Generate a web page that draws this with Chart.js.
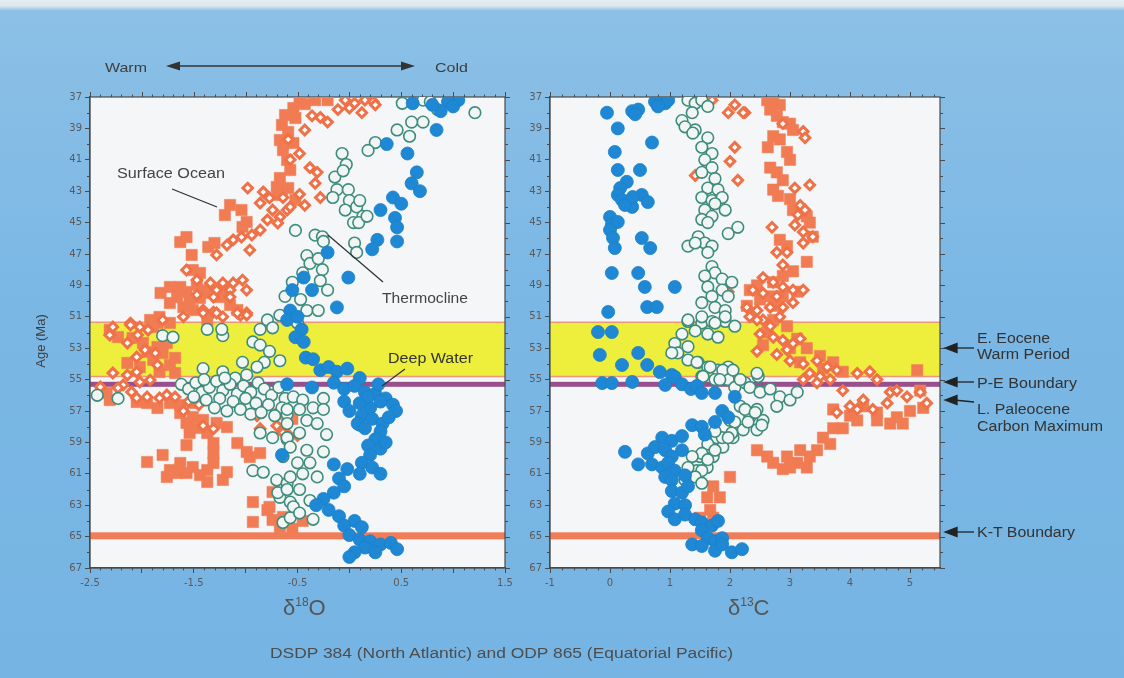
<!DOCTYPE html>
<html>
<head>
<meta charset="utf-8">
<script src="https://cdn.jsdelivr.net/npm/chart.js@4.4.1/dist/chart.umd.min.js"></script>
<style>
  html, body { margin: 0; padding: 0; }
  body {
    width: 1124px; height: 678px; overflow: hidden; position: relative;
    background: linear-gradient(to bottom, #e8edf0 0px, #dae6ee 6px, #8cc0e6 11px, #7ab7e5 45%, #76b4e3 100%);
    font-family: "Liberation Sans", Arial, sans-serif;
  }
  canvas { position: absolute; }
  #o18 { left: 40px; top: 80px; }
  #c13 { left: 500px; top: 80px; }
  svg { position: absolute; left: 0; top: 0; }
</style>
</head>
<body>
<canvas id="o18" width="480" height="530"></canvas>
<canvas id="c13" width="460" height="530"></canvas>

<svg width="1124" height="678" font-family="Liberation Sans, Arial, sans-serif">
  <!-- temperature direction -->
  <text x="105" y="72" font-size="13" fill="#3d3d3d" textLength="42" lengthAdjust="spacingAndGlyphs">Warm</text>
  <line x1="178" y1="66" x2="403" y2="66" stroke="#333" stroke-width="1.3"/>
  <polygon points="166,66 180,61.5 180,70.5" fill="#333"/>
  <polygon points="415,66 401,61.5 401,70.5" fill="#333"/>
  <text x="435" y="72" font-size="13" fill="#3d3d3d" textLength="33" lengthAdjust="spacingAndGlyphs">Cold</text>

  <!-- water mass labels -->
  <text x="117" y="178" font-size="14" fill="#444" textLength="108" lengthAdjust="spacingAndGlyphs">Surface Ocean</text>
  <line x1="172" y1="189" x2="217" y2="207" stroke="#333" stroke-width="1.3"/>
  <text x="382" y="303" font-size="14" fill="#444" textLength="86" lengthAdjust="spacingAndGlyphs">Thermocline</text>
  <line x1="328" y1="235" x2="383" y2="282" stroke="#333" stroke-width="1.3"/>
  <text x="388" y="363" font-size="14" fill="#333" textLength="85" lengthAdjust="spacingAndGlyphs">Deep Water</text>
  <line x1="405" y1="369" x2="382" y2="386" stroke="#333" stroke-width="1.3"/>

  <!-- axis titles -->
  <text transform="translate(45,341) rotate(-90)" text-anchor="middle" font-size="13" fill="#3d3d3d">Age (Ma)</text>
  <text x="283" y="615" font-size="22" fill="#555">δ<tspan font-size="12" dy="-9">18</tspan><tspan dy="9">O</tspan></text>
  <text x="728" y="615" font-size="22" fill="#555">δ<tspan font-size="12" dy="-9">13</tspan><tspan dy="9">C</tspan></text>
  <text x="270" y="658" font-size="14" fill="#4d4d4d" textLength="463" lengthAdjust="spacingAndGlyphs">DSDP 384 (North Atlantic) and ODP 865 (Equatorial Pacific)</text>

  <!-- event labels -->
  <g stroke="#222" stroke-width="1.3" fill="#222">
    <line x1="954" y1="348" x2="974" y2="348"/><polygon points="945,348 957,343.5 957,352.5"/>
    <line x1="954" y1="382" x2="974" y2="382"/><polygon points="945,382 957,377.5 957,386.5"/>
    <line x1="954" y1="400" x2="974" y2="402"/><polygon points="945,400 957,395.5 957,404.5"/>
    <line x1="954" y1="532" x2="974" y2="532"/><polygon points="945,532 957,527.5 957,536.5"/>
  </g>
  <g font-size="14" fill="#333">
    <text x="977" y="343" textLength="73" lengthAdjust="spacingAndGlyphs">E. Eocene</text>
    <text x="977" y="359" textLength="93" lengthAdjust="spacingAndGlyphs">Warm Period</text>
    <text x="977" y="388" textLength="100" lengthAdjust="spacingAndGlyphs">P-E Boundary</text>
    <text x="977" y="414" textLength="93" lengthAdjust="spacingAndGlyphs">L. Paleocene</text>
    <text x="977" y="431" textLength="126" lengthAdjust="spacingAndGlyphs">Carbon Maximum</text>
    <text x="977" y="537" textLength="98" lengthAdjust="spacingAndGlyphs">K-T Boundary</text>
  </g>
</svg>

<script>
// ---- tick labels ----
const o18TickLabels = ['-2.5', '-1.5', '-0.5', '0.5', '1.5'];
const c13TickLabels = ['-1', '0', '1', '2', '3', '4', '5'];
const ageTickLabels = [37, 39, 41, 43, 45, 47, 49, 51, 53, 55, 57, 59, 61, 63, 65, 67];

// ---- event intervals (Ma) ----
const eoceneWarm = [51.35, 54.8];
const peBoundary = 55.3;
const ktBoundary = 64.95;

// ---- δ18O panel: [δ18O, age Ma] ----
const deepO18 = [
  [1.05,37.2],[0.95,37.3],[1.0,37.6],[0.88,37.9],[0.8,37.5],[0.61,37.4],[0.84,39.1],[0.36,40.0],[0.56,40.6],
  [0.65,41.8],[0.6,42.5],[0.68,43.0],[0.42,43.4],[0.5,43.8],[0.3,44.2],[0.44,44.7],[0.46,45.3],[0.46,46.2],
  [0.27,46.1],[0.22,46.7],[-0.21,46.9],[-0.01,48.5],[-0.44,48.5],[-0.55,49.3],[-0.36,49.3],[-0.12,50.4],
  [-0.57,50.6],[-0.6,51.2],[-0.5,51.0],[-0.46,51.8],[-0.52,52.3],[-0.44,52.6],[-0.42,53.6],[-0.35,53.7],
  [-0.6,55.3],[-0.36,55.5],[-0.28,54.4],[-0.2,54.2],[-0.12,54.5],[-0.02,54.3],[0.1,54.9],[-0.15,55.2],
  [-0.05,55.6],[0.05,55.4],[0.15,55.8],[0.25,55.9],[0.35,56.2],[0.42,56.6],[0.3,56.4],[0.2,56.8],[0.1,56.5],
  [-0.05,56.4],[0.0,57.0],[0.12,57.3],[0.22,57.5],[0.32,57.8],[0.45,57.0],[0.38,57.4],[0.3,58.3],[0.25,58.8],
  [0.18,59.2],[0.3,59.4],[0.2,59.8],[0.12,60.3],[0.22,60.6],[0.3,61.0],[0.1,61.0],[-0.02,60.7],[-0.15,60.4],
  [-0.1,61.3],[-0.05,61.8],[-0.15,62.2],[-0.25,62.6],[-0.32,63.0],[-0.2,63.3],[-0.1,63.7],[0.05,64.0],
  [0.12,64.4],[-0.05,64.3],[0.0,64.9],[0.1,65.2],[0.2,65.3],[0.3,65.5],[0.4,65.4],[0.46,65.8],[0.15,65.7],
  [0.05,66.0],[0.0,66.3],[0.25,66.0],[-0.65,59.8],[0.28,55.3],[0.18,56.1],[0.08,57.8],[0.35,59.0],[0.15,58.1]
];
const thermoO18 = [
  [0.51,37.4],[0.71,37.2],[0.85,37.8],[0.78,37.3],[0.97,37.2],[1.21,38.0],[0.71,38.6],[0.6,38.6],[0.46,39.1],
  [0.58,39.5],[0.25,39.9],[0.18,40.4],[-0.07,40.6],[-0.03,41.3],[-0.14,42.1],[-0.06,41.7],[-0.12,42.9],
  [-0.01,42.9],[-0.16,43.4],[0.0,43.6],[0.07,44.0],[-0.04,44.2],[0.13,44.6],[0.04,45.0],[0.09,45.0],
  [0.17,44.6],[0.1,43.6],[-0.52,45.5],[-0.33,45.8],[-0.26,45.9],[-0.41,47.1],[-0.25,46.2],[0.05,46.3],
  [0.07,46.9],[-0.26,48.0],[-0.55,48.8],[-0.28,48.7],[-0.21,49.3],[-0.62,49.7],[-0.47,49.9],[-0.41,50.6],
  [-0.3,50.6],[-0.5,51.4],[-0.38,47.6],[-0.3,47.3],[-0.45,48.2],
  [-1.8,52.2],[-1.7,52.3],[-1.37,51.8],[-1.22,52.2],[-1.23,51.8],[-0.93,52.6],[-0.86,51.8],[-0.79,51.2],
  [-0.74,51.7],[-0.67,50.9],[-0.86,52.8],[-0.77,53.2],[-0.67,53.8],[-0.82,53.9],[-1.03,53.9],[-0.89,54.2],
  [-1.41,54.3],[-1.22,54.5],[-0.99,54.7],[-1.1,54.9],
  [-1.62,55.3],[-1.55,55.6],[-1.48,55.2],[-1.42,55.8],[-1.35,55.5],[-1.28,55.1],[-1.22,55.7],[-1.15,55.3],
  [-1.08,55.9],[-1.02,55.4],[-0.95,55.8],[-0.88,55.2],[-0.82,55.6],[-0.75,56.0],[-0.68,55.5],[-0.62,56.2],
  [-1.5,56.1],[-1.38,56.3],[-1.25,56.2],[-1.12,56.4],[-1.0,56.2],[-0.9,56.5],[-0.78,56.6],[-0.65,56.8],
  [-1.3,56.8],[-1.18,57.0],[-1.05,56.9],[-0.95,57.2],[-0.85,57.1],[-0.72,57.3],[-0.6,57.2],[-1.4,55.0],
  [-1.2,54.9],[-2.43,56.0],[-2.23,56.2],
  [-0.86,58.4],[-0.74,58.7],[-0.6,58.8],[-0.93,60.8],[-0.83,60.9],[-0.7,61.4],[-0.6,61.6],[-0.67,62.5],
  [-0.69,62.2],[-0.57,62.8],[-0.64,64.1],[-0.57,63.8],
  [-0.54,56.1],[-0.45,56.3],[-0.25,56.2],[-0.6,56.9],[-0.48,56.9],[-0.35,56.8],[-0.25,56.9],[-0.6,57.8],
  [-0.41,57.6],[-0.31,57.8],[0.1,57.9],[-0.6,58.7],[-0.48,58.4],[-0.22,58.5],[-0.57,59.3],[-0.41,59.5],
  [-0.25,59.6],[-0.64,59.9],[-0.5,60.3],[-0.38,60.3],[-0.57,61.2],[-0.45,61.0],[-0.31,61.2],[-0.6,62.0],
  [-0.48,62.0],[-0.38,62.7],[-0.54,63.1],[-0.35,63.9],[-0.48,63.5]
];
const surfOpenO18 = [
  [-0.04,37.2],[0.05,37.4],[0.15,37.2],[0.23,37.3],[0.25,37.5],[-0.11,37.8],[0.0,37.7],[0.12,38.0],
  [-0.43,39.1],[-0.28,38.3],[-0.21,38.6],[-0.36,38.2],[-0.59,39.7],[-0.48,40.6],[-0.57,41.0],[-0.38,41.5],
  [-0.31,41.8],[-0.33,42.5],[-0.28,43.4],[-0.64,43.4],[-0.6,44.2],[-0.57,44.0],[-0.48,43.2],[-0.43,43.9],
  [-0.98,42.8],[-0.83,43.05],[-0.77,43.43],[-0.86,43.75],[-0.74,44.2],[-0.67,44.64],[-0.79,44.83],
  [-0.69,45.03],[-0.86,45.47],[-0.94,45.79],[-1.04,45.92],[-1.12,46.1],[-1.18,46.43],[-1.28,47.06],
  [-0.96,46.75],[-1.57,48.02],[-1.47,48.66],[-1.34,48.85],[-1.22,48.85],[-1.12,48.85],[-1.03,48.66],
  [-0.99,49.3],[-1.15,49.3],[-1.28,49.3],[-1.47,49.6],[-1.31,49.74],[-1.15,49.74],[-1.41,50.57],[-1.31,50.7],
  [-1.22,51.0],[-1.05,50.9],[-0.99,50.76],[-1.6,51.0],[-1.8,51.2],[-2.11,51.4],[-2.02,51.65],[-2.28,51.65],
  [-2.31,52.16],[-2.11,51.52],[-2.04,52.16],[-1.94,51.84],[-2.14,52.67],[-1.97,53.11],[-1.87,53.31],
  [-2.05,53.56],[-1.85,54.07],[-2.28,54.58],[-2.14,54.71],[-2.05,54.52],[-2.02,55.15],[-1.92,55.03],
  [-2.18,55.34],[-2.1,55.79],[-2.23,55.53],[-2.4,55.47],[-1.95,56.11],[-1.83,56.17],[-2.05,56.17],
  [-1.76,55.98],[-1.68,56.11],[-1.41,50.76],[-1.28,50.76],[-1.08,50.76],[-0.99,50.89],[-1.41,57.94],
  [-1.31,58.13],[-0.89,57.3],[-0.86,58.13],[-0.7,57.94],[-0.6,58.45],[-0.64,58.38],[-0.5,58.57],
  [-1.55,56.4],[-1.45,56.6],[-1.6,57.0]
];
const surfSolidO18 = [
  [-0.48,37.2],[-0.33,37.2],[-0.21,37.2],[-0.43,37.45],[-0.54,37.7],[-0.62,38.15],[-0.52,38.34],[-0.65,38.78],
  [-0.59,39.23],[-0.67,39.74],[-0.54,39.93],[-0.64,40.38],[-0.6,41.01],[-0.57,41.65],[-0.67,42.16],
  [-0.59,42.8],[-0.69,43.24],[-0.52,43.56],[-0.7,42.73],[-0.65,42.92],
  [-1.15,43.88],[-1.04,44.2],[-1.2,44.52],[-0.99,44.96],[-1.03,45.28],[-1.57,45.92],[-1.63,46.24],
  [-1.52,47.06],[-1.36,46.55],[-1.3,46.3],[-1.51,48.02],[-1.44,48.21],[-1.73,49.1],[-1.63,49.1],
  [-1.57,49.42],[-1.47,48.97],[-1.41,49.29],[-1.66,49.74],[-1.54,49.93],[-1.44,49.8],[-1.34,49.48],
  [-1.25,49.74],[-1.18,49.29],[-1.6,50.38],[-1.51,50.57],[-1.15,50.25],[-1.08,50.57],[-1.73,50.12],
  [-1.82,49.48],[-1.85,51.39],[-1.92,51.2],[-1.73,51.39],[-1.37,51.2],
  [-2.31,51.84],[-2.23,52.29],[-2.09,52.35],[-1.99,52.67],[-1.85,52.92],[-1.76,52.67],[-1.89,51.65],
  [-1.83,51.01],[-1.95,53.24],[-1.8,53.31],[-1.68,53.62],[-1.89,53.75],[-1.73,54.07],[-2.02,54.2],
  [-2.14,53.94],[-1.83,54.52],[-1.68,54.58],[-2.34,55.85],[-2.31,56.3],[-2.05,56.43],[-1.95,56.49],
  [-1.85,56.81],[-1.73,56.49],[-1.63,56.62],[-1.51,56.49],[-1.63,57.13],[-1.51,57.38],[-1.41,57.57],
  [-1.57,57.76],[-1.47,58.08],[-1.28,57.76],[-1.18,58.02],[-1.37,58.4],[-1.54,58.4],[-1.31,59.04],
  [-1.57,59.17],[-1.08,59.04],[-0.99,59.61],[-0.86,59.68],[-0.96,59.93],[-1.31,59.68],[-1.31,60.31],
  [-1.37,60.76],[-1.51,60.57],[-1.63,60.31],[-1.73,60.76],[-1.8,59.8],[-1.95,60.25],[-1.66,60.95],
  [-1.76,61.2],[-1.57,60.95],[-1.44,61.08],[-1.37,61.52],[-1.22,61.39],[-1.18,60.89],[-0.93,62.8],
  [-0.74,62.16],[-0.77,63.11],[-0.74,63.94],[-0.93,64.07],[-0.67,64.39],[-0.79,63.31],[-0.64,63.75],
  [-0.45,64.0],[-0.55,64.5],[-0.67,57.2],[-0.55,57.5]
];

// ---- δ13C panel: [δ13C, age Ma] ----
const deepC13 = [
  [-0.05,38.0],[0.37,37.9],[0.47,37.8],[0.42,38.1],[0.75,37.3],[0.85,37.2],[0.92,37.4],[0.97,37.2],[0.8,37.6],
  [0.13,39.0],[0.7,39.9],[0.08,40.5],[0.13,41.65],[0.5,41.65],[0.28,42.4],[0.17,42.8],[0.13,43.24],[0.2,43.56],
  [0.53,43.24],[0.63,43.69],[0.37,44.0],[0.25,43.88],[0.38,43.37],[0.0,44.64],[0.03,45.15],[0.13,44.96],
  [0.0,45.47],[0.05,45.98],[0.08,46.62],[0.53,45.98],[0.67,46.62],[0.03,48.21],[0.47,48.21],[0.58,49.1],
  [1.08,49.1],[0.62,50.38],[0.78,50.38],[-0.03,50.69],
  [-0.2,51.97],[0.03,51.97],[-0.17,53.43],[0.2,54.07],[0.47,53.3],[0.62,54.07],[0.83,54.52],[1.03,54.7],
  [1.08,54.83],[-0.13,55.22],[0.03,55.22],[0.37,55.15],[0.92,55.34],[1.2,55.3],[1.35,55.6],[1.45,55.4],
  [1.53,55.85],[1.75,55.85],[2.08,56.1],[1.87,57.0],[1.97,57.4],[1.75,57.7],[1.37,57.9],[1.53,58.0],
  [1.58,58.5],[0.87,58.7],[1.03,58.9],[1.2,58.6],[0.25,59.6],[0.63,59.7],[0.75,59.3],[0.92,59.5],[1.03,59.9],
  [1.2,59.5],[0.47,60.4],[0.7,60.4],[0.87,60.6],[0.97,60.3],[1.08,60.8],[1.25,61.1],[0.92,61.2],[1.03,61.4],
  [1.03,62.1],[1.2,62.2],[1.3,61.8],[1.08,62.9],[1.25,63.0],[0.97,63.4],[1.08,63.9],[1.25,63.6],[1.42,63.9],
  [1.53,64.1],[1.7,64.3],[1.8,64.0],[1.53,64.6],[1.63,65.1],[1.75,65.3],[1.87,65.1],[1.37,65.5],[1.53,65.6],
  [1.75,65.9],[1.87,65.5],[2.03,66.0],[2.2,65.8]
];
const thermoC13 = [
  [1.3,37.2],[1.42,37.4],[1.53,37.2],[1.63,37.6],[1.2,38.5],[1.37,38.0],[1.25,38.9],[1.42,39.1],[1.38,39.3],
  [1.63,39.6],[1.53,40.2],[1.7,40.6],[1.58,41.0],[1.7,41.5],[1.53,41.8],[1.75,42.2],[1.63,42.8],[1.8,42.9],
  [1.53,43.4],[1.7,43.6],[1.87,43.4],[1.75,43.8],[1.58,44.2],[1.7,44.6],[1.92,44.2],[1.53,44.8],[1.63,45.0],
  [2.13,45.3],[1.97,45.7],[1.47,45.9],[1.58,46.3],[1.7,46.5],[1.3,46.5],[1.42,46.3],[1.63,46.9],[1.7,47.8],
  [1.75,48.2],[1.58,48.4],[1.87,48.6],[2.03,48.8],[1.63,49.1],[1.87,49.3],[1.7,49.7],[1.97,49.7],[1.53,50.1],
  [1.75,50.4],[1.92,50.6],[1.3,51.3],[1.53,51.4],[1.7,51.3],[1.92,51.3],
  [1.3,51.2],[1.53,51.0],[1.75,51.4],[1.92,51.0],[2.08,51.6],[1.2,52.1],[1.42,51.9],[1.63,52.1],[1.8,52.3],
  [1.08,52.7],[1.13,53.3],[1.3,52.9],[1.03,53.3],[1.3,53.75],[1.47,53.9],[1.63,54.2],[1.8,54.4],[1.97,54.2],
  [1.53,54.8],[1.75,55.0],[1.97,55.0],[2.08,55.5],[2.25,55.2],[2.47,54.8],
  [1.45,53.9],[1.67,54.2],[1.88,54.4],[2.05,54.4],[1.55,54.8],[1.83,55.0],[2.17,55.0],[2.33,55.5],[2.45,54.6],
  [2.5,55.8],[2.67,55.6],[2.83,56.1],[3.0,56.3],[3.12,55.8],[2.78,56.7],[2.45,56.9],[2.17,56.7],[2.0,57.6],
  [2.33,57.4],[2.55,57.6],[2.22,58.2],[2.45,58.2],[2.05,58.7],[1.78,58.7],[1.88,59.3],[1.62,59.5],[1.5,59.9],
  [1.72,59.9],[1.45,60.8],[1.62,60.6],
  [2.25,56.9],[2.42,57.1],[2.53,57.9],[2.3,57.7],[2.08,57.7],[2.03,58.4],[1.87,58.7],[1.63,59.1],[1.75,59.5],
  [1.53,59.7],[1.37,59.9],[1.63,60.1],[1.3,60.6],[1.53,60.8],[1.42,61.2],[1.25,61.4],[1.53,61.6],[1.75,58.3],
  [1.97,58.7]
];
const surfOpenC13 = [
  [1.7,37.2],[1.53,37.2],[2.08,37.5],[2.25,38.0],[1.97,38.0],[2.08,40.2],[2.0,41.1],[1.42,42.0],[2.13,42.3],
  [2.7,45.3],[1.97,49.4],[2.22,38.0],[2.88,38.7],[3.22,39.2],[3.25,39.6],[3.33,42.6],[3.08,42.8],[3.17,43.9],
  [3.25,44.2],[3.13,44.5],[3.08,45.15],[3.22,45.6],[3.38,45.9],[3.22,46.3],[2.78,46.9],[2.95,46.9],[2.88,47.7],
  [2.55,48.5],[2.72,48.8],[2.88,49.1],[3.05,49.3],[3.22,49.3],[2.38,49.3],[2.55,49.5],[2.78,49.7],[2.28,50.4],
  [2.45,50.6],[2.67,50.4],[2.88,50.4],[3.05,50.1],[2.33,51.0],[2.55,51.2],
  [2.45,51.2],[2.67,51.6],[2.83,51.0],[2.5,52.1],[2.72,52.3],[2.88,52.5],[3.05,52.7],[3.17,52.4],[2.95,53.1],
  [2.45,53.2],[2.78,53.4],[3.0,53.8],[3.22,54.0],[3.45,53.8],[3.62,54.2],[3.78,54.4],[3.33,54.6],[3.5,54.8],
  [3.67,55.0],[4.12,54.6],[4.33,54.5],[4.45,55.0],[4.67,55.8],[4.78,55.7],[4.95,56.1],[5.17,55.8],[5.28,56.5],
  [4.62,56.5],[4.38,56.9],[4.12,56.9],[4.0,56.7],[3.78,57.1],[3.88,55.7],[4.22,56.3],[3.22,55.0],[3.45,55.2]
];
const surfSolidC13 = [
  [2.62,37.2],[2.72,37.2],[2.83,37.5],[2.67,37.8],[2.78,38.2],[2.88,38.6],[3.0,38.7],[3.05,39.1],[2.72,39.5],
  [2.83,39.7],[2.63,40.2],[2.95,40.5],[3.0,41.0],[2.67,41.5],[2.78,41.8],[2.88,42.3],[2.72,42.9],[2.8,43.3],
  [3.0,43.5],[3.05,44.2],[3.28,44.6],[3.33,45.0],[3.38,45.9],[2.83,46.1],[2.95,46.5],[3.28,47.5],[3.05,48.1],
  [2.88,48.4],[2.72,48.8],[2.45,49.0],[2.33,49.3],[2.5,49.9],[2.67,49.7],[2.88,49.7],[3.12,49.4],[2.28,50.3],
  [2.78,50.3],
  [2.72,51.2],[2.95,51.6],[2.62,52.0],[3.12,52.4],[2.55,52.8],[3.0,53.0],[3.28,53.0],[3.5,53.5],[3.72,53.9],
  [3.88,54.5],[3.55,54.3],[3.17,53.9],
  [3.72,56.9],[4.0,57.3],[4.22,56.7],[4.45,57.1],[4.67,57.8],[4.88,57.8],[5.12,54.4],[5.17,55.7],[5.22,56.8],
  [5.0,57.0],[4.78,57.4],[4.45,57.6],[4.12,57.6],[3.88,58.1],[3.72,58.1],[3.55,58.7],[3.67,59.1],[3.45,59.5],
  [3.33,59.9],[3.17,59.5],[3.12,60.3],[3.0,60.6],[2.88,60.7],[2.72,60.3],[2.62,59.9],[2.45,59.5],[2.95,59.9],
  [3.28,60.6],[2.0,61.2],[1.72,61.8],[1.83,62.5],[1.62,62.5],[1.67,63.3],[1.5,63.8],[1.72,63.8]
];

// ---- drawing ----
const toPoints = arr => arr.map(([x, y]) => ({ x, y }));
const tickFont = { family: 'DejaVu Sans', size: 10 };
const axisColor = '#4a4a4a';

// plot background, event bands, box frame and secondary tick marks
function panelDecor(majorX, minorX) {
  return {
    id: 'panelDecor',
    beforeDraw(chart) {
      const { ctx, chartArea: a } = chart;
      ctx.save();
      ctx.fillStyle = '#f4f6f8';
      ctx.fillRect(a.left, a.top, a.right - a.left, a.bottom - a.top);
      ctx.restore();
    },
    beforeDatasetsDraw(chart) {
      const { ctx, chartArea: a, scales: { x, y } } = chart;
      const w = a.right - a.left;
      ctx.save();
      const t = y.getPixelForValue(eoceneWarm[0]);
      const b = y.getPixelForValue(eoceneWarm[1]);
      ctx.fillStyle = '#eeee3c';
      ctx.fillRect(a.left, t, w, b - t);
      ctx.strokeStyle = '#ee9778';
      ctx.lineWidth = 1.5;
      ctx.beginPath();
      ctx.moveTo(a.left, t); ctx.lineTo(a.right, t);
      ctx.moveTo(a.left, b); ctx.lineTo(a.right, b);
      ctx.stroke();
      const pe = y.getPixelForValue(peBoundary);
      ctx.fillStyle = '#984f8c';
      ctx.fillRect(a.left, pe - 2.5, w, 5);
      const kt = y.getPixelForValue(ktBoundary);
      ctx.fillStyle = '#f07c58';
      ctx.fillRect(a.left, kt - 3.5, w, 7);

      ctx.strokeStyle = axisColor;
      ctx.lineWidth = 1.2;
      ctx.strokeRect(a.left, a.top, w, a.bottom - a.top);

      ctx.lineWidth = 1;
      ctx.beginPath();
      for (let v = y.min; v <= y.max + 1e-9; v += 1) {
        const p = Math.round(y.getPixelForValue(v)) + 0.5;
        const major = (v - y.min) % 2 === 0;
        ctx.moveTo(a.right, p); ctx.lineTo(a.right + (major ? 5 : 3), p);
        if (!major) { ctx.moveTo(a.left, p); ctx.lineTo(a.left - 3, p); }
      }
      const n = Math.floor((x.max - x.min) / minorX + 1e-6);
      for (let i = 0; i <= n; i++) {
        const v = x.min + i * minorX;
        const p = Math.round(x.getPixelForValue(v)) + 0.5;
        const r = (v - x.min) / majorX;
        const major = Math.abs(r - Math.round(r)) < 1e-6;
        ctx.moveTo(p, a.top); ctx.lineTo(p, a.top - (major ? 5 : 2.5));
        if (!major) { ctx.moveTo(p, a.bottom); ctx.lineTo(p, a.bottom + 2.5); }
      }
      ctx.stroke();
      ctx.restore();
    }
  };
}

function makePanel(id, xMin, xMax, xStep, minorStep, xLabels, rightPad, series) {
  const [deep, thermo, surfOpen, surfSolid] = series;
  return new Chart(document.getElementById(id), {
    type: 'scatter',
    data: {
      datasets: [
        { label: 'Deep Water', data: toPoints(deep), pointStyle: 'circle', pointRadius: 6.5,
          backgroundColor: '#1e88d4', borderColor: '#1b80c9', borderWidth: 0.8 },
        { label: 'Thermocline', data: toPoints(thermo), pointStyle: 'circle', pointRadius: 5.8,
          backgroundColor: '#f1f5f4', borderColor: '#3d8c7c', borderWidth: 1.6 },
        { label: 'Surface Ocean (open)', data: toPoints(surfOpen), pointStyle: 'rectRot', pointRadius: 4.8,
          backgroundColor: '#ffffff', borderColor: '#ef7148', borderWidth: 3 },
        { label: 'Surface Ocean (solid)', data: toPoints(surfSolid), pointStyle: 'rect', pointRadius: 8,
          backgroundColor: '#f17c54', borderColor: '#f17c54', borderWidth: 0.5 }
      ]
    },
    options: {
      responsive: false,
      animation: false,
      devicePixelRatio: 1,
      events: [],
      layout: { padding: { top: 17, right: rightPad, left: 0, bottom: 0 } },
      plugins: { legend: { display: false }, tooltip: { enabled: false } },
      scales: {
        x: {
          type: 'linear', position: 'bottom', min: xMin, max: xMax,
          ticks: {
            stepSize: xStep, autoSkip: false, maxRotation: 0, includeBounds: false,
            color: '#5a5a5a', font: tickFont, padding: 4,
            callback: v => xLabels.includes(String(v)) ? String(v) : ''
          },
          grid: { drawOnChartArea: false, drawTicks: true, tickLength: 5, color: axisColor, lineWidth: 1 },
          border: { display: true, color: axisColor, width: 1.2 },
          afterFit: s => { s.height = 42; }
        },
        y: {
          type: 'linear', min: 37, max: 67, reverse: true,
          ticks: {
            stepSize: 2, autoSkip: false, color: '#5a5a5a', font: tickFont, padding: 3,
            callback: v => ageTickLabels.includes(v) ? String(v) : ''
          },
          grid: { drawOnChartArea: false, drawTicks: true, tickLength: 5, color: axisColor, lineWidth: 1 },
          border: { display: true, color: axisColor, width: 1.2 },
          afterFit: s => { s.width = 50; }
        }
      }
    },
    plugins: [panelDecor(xStep, minorStep)]
  });
}

makePanel('o18', -2.5, 1.5, 0.5, 0.1, o18TickLabels, 15,
  [deepO18, thermoO18, surfOpenO18, surfSolidO18]);
makePanel('c13', -1, 5.5, 1, 0.2, c13TickLabels, 20,
  [deepC13, thermoC13, surfOpenC13, surfSolidC13]);
</script>
</body>
</html>
